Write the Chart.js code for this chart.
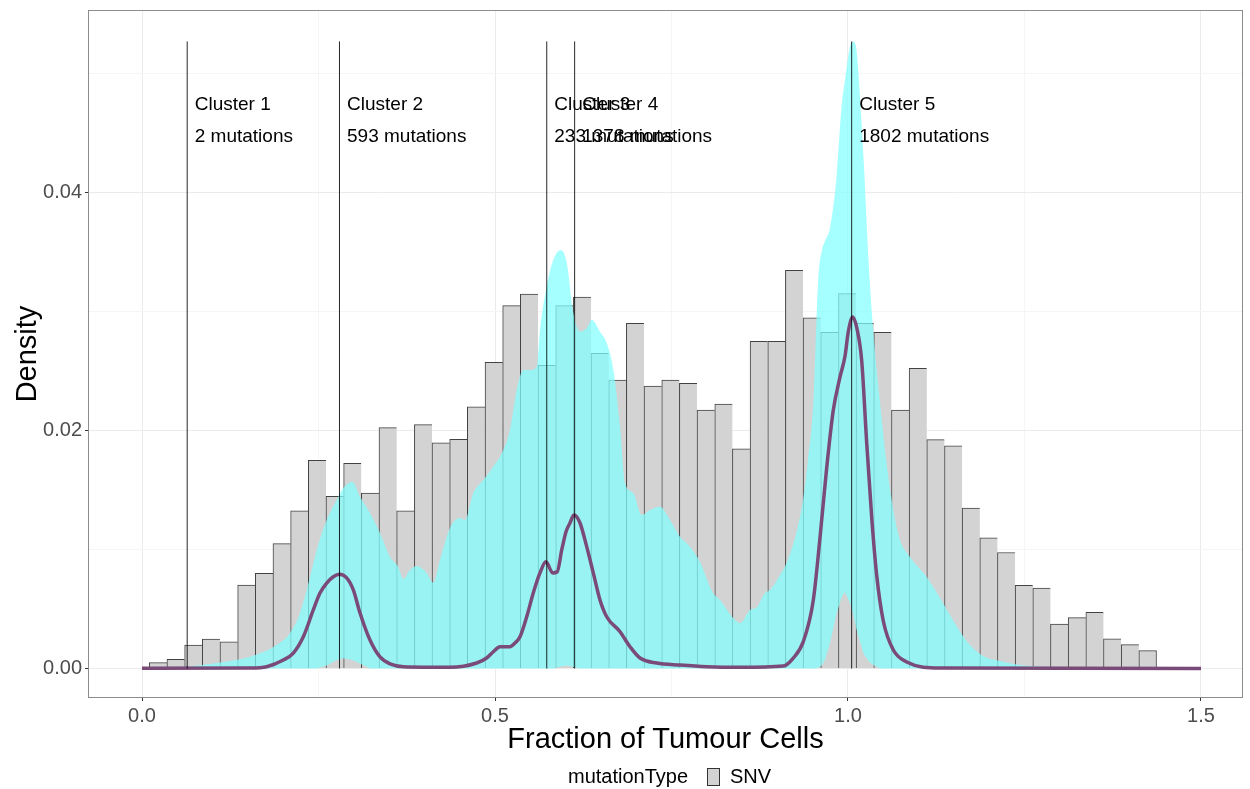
<!DOCTYPE html>
<html>
<head>
    <title>Fraction of Tumour Cells</title>
    <script src="https://cdn.jsdelivr.net/npm/chart.js"></script>
    <style>
        body { margin: 0; background: #fff; }
        canvas { display: block; }
    </style>
</head>
<body>
    <canvas id="myChart" width="1250" height="789"></canvas>
    <script>
        // histogram (bin centres and heights)
        var binX = [0.0228, 0.0478, 0.0729, 0.0979, 0.1229, 0.1480, 0.1730, 0.1980, 0.2230, 0.2481,
            0.2731, 0.2981, 0.3232, 0.3482, 0.3732, 0.3983, 0.4233, 0.4483, 0.4733, 0.4984,
            0.5234, 0.5484, 0.5735, 0.5985, 0.6235, 0.6486, 0.6736, 0.6986, 0.7236, 0.7487,
            0.7737, 0.7987, 0.8238, 0.8488, 0.8738, 0.8989, 0.9239, 0.9489, 0.9739, 0.9990,
            1.0240, 1.0490, 1.0741, 1.0991, 1.1241, 1.1492, 1.1742, 1.1992, 1.2242, 1.2493,
            1.2743, 1.2993, 1.3244, 1.3494, 1.3744, 1.3995, 1.4245];
        var binDensity = [0.00049, 0.00077, 0.00197, 0.00248, 0.00225, 0.00700, 0.00800, 0.01050, 0.01326, 0.01749,
            0.01447, 0.01724, 0.01475, 0.02024, 0.01324, 0.02049, 0.01897, 0.01926, 0.02200, 0.02573,
            0.03049, 0.03147, 0.02548, 0.03049, 0.03122, 0.02649, 0.02424, 0.02901, 0.02374, 0.02424,
            0.02397, 0.02172, 0.02223, 0.01847, 0.02750, 0.02750, 0.03346, 0.02948, 0.02825, 0.03150,
            0.02901, 0.02825, 0.02172, 0.02523, 0.01923, 0.01872, 0.01349, 0.01099, 0.00975, 0.00699,
            0.00676, 0.00374, 0.00427, 0.00472, 0.00250, 0.00200, 0.00150];

        // cyan ribbon (upper and lower bound)
        var ribbonX = [0, 0.0255, 0.0633, 0.1058, 0.1530, 0.1908, 0.2096, 0.2238, 0.2380, 0.2475,
            0.2616, 0.2758, 0.2851, 0.2979, 0.3088, 0.3229, 0.3371, 0.3513, 0.3630, 0.3701,
            0.3796, 0.3891, 0.4032, 0.4126, 0.4221, 0.4363, 0.4504, 0.4575, 0.4693, 0.4834,
            0.4976, 0.5118, 0.5212, 0.5307, 0.5401, 0.5496, 0.5591, 0.5637, 0.5732, 0.5826,
            0.5931, 0.6016, 0.6109, 0.6204, 0.6299, 0.6370, 0.6487, 0.6582, 0.6676, 0.6771,
            0.6841, 0.6959, 0.7078, 0.7196, 0.7337, 0.7479, 0.7620, 0.7762, 0.7904, 0.8088,
            0.8187, 0.8375, 0.8470, 0.8612, 0.8711, 0.8824, 0.8895, 0.9037, 0.9136, 0.9278,
            0.9367, 0.9433, 0.9509, 0.9579, 0.9632, 0.9674, 0.9745, 0.9840, 0.9911, 0.9958,
            1.0028, 1.0075, 1.0123, 1.0217, 1.0288, 1.0358, 1.0453, 1.0548, 1.0642, 1.0737,
            1.0878, 1.1115, 1.1303, 1.1487, 1.1681, 1.1912, 1.2153, 1.2436, 1.2720, 1.3286,
            1.3853, 1.5000];
        var ribbonHigh = [0.00002, 0.00004, 0.00015, 0.00046, 0.00099, 0.00197, 0.00298, 0.00466, 0.00769, 0.00996,
            0.01248, 0.01416, 0.01517, 0.01570, 0.01444, 0.01307, 0.01139, 0.00937, 0.00853, 0.00752,
            0.00828, 0.00861, 0.00803, 0.00721, 0.00912, 0.01181, 0.01265, 0.01248, 0.01475, 0.01584,
            0.01696, 0.01836, 0.02004, 0.02340, 0.02508, 0.02508, 0.02536, 0.02845, 0.03208, 0.03433,
            0.03517, 0.03408, 0.02987, 0.02830, 0.02861, 0.02929, 0.02830, 0.02735, 0.02508, 0.02032,
            0.01559, 0.01475, 0.01290, 0.01332, 0.01360, 0.01248, 0.01108, 0.01024, 0.00895, 0.00634,
            0.00576, 0.00424, 0.00382, 0.00492, 0.00517, 0.00634, 0.00660, 0.00786, 0.00895, 0.01164,
            0.01433, 0.01752, 0.02239, 0.03282, 0.03517, 0.03592, 0.03702, 0.04147, 0.04735, 0.04945,
            0.05227, 0.05268, 0.05181, 0.04324, 0.03458, 0.02828, 0.02239, 0.01718, 0.01332, 0.01080,
            0.00937, 0.00769, 0.00592, 0.00408, 0.00231, 0.00105, 0.00063, 0.00029, 0.00015, 0.00004,
            0.00002, 0];
        var ribbonLow = [0, 0, 0, 0, 0, 0, 0, 0, 0, 0,
            0.00025, 0.00071, 0.00086, 0.00071, 0.00042, 0, 0, 0, 0, 0,
            0, 0, 0, 0, 0, 0, 0, 0, 0, 0,
            0, 0, 0, 0, 0, 0, 0, 0, 0, 0,
            0.00017, 0.00025, 0.00013, 0, 0, 0, 0, 0, 0, 0,
            0, 0, 0, 0, 0, 0, 0, 0, 0, 0,
            0, 0, 0, 0, 0, 0, 0, 0, 0, 0,
            0, 0, 0, 0.00004, 0.00029, 0.00071, 0.00214, 0.00466, 0.00601, 0.00643,
            0.00550, 0.00450, 0.00324, 0.00130, 0.00063, 0.00029, 0, 0, 0, 0,
            0, 0, 0, 0, 0, 0, 0, 0, 0, 0,
            0, 0];

        // purple fitted curve
        var fitX = [0, 0.1530, 0.1766, 0.2001, 0.2143, 0.2285, 0.2426, 0.2521, 0.2616, 0.2710,
            0.2795, 0.2899, 0.2993, 0.3088, 0.3229, 0.3371, 0.3513, 0.3701, 0.4363, 0.4741,
            0.4882, 0.4976, 0.5071, 0.5212, 0.5283, 0.5354, 0.5449, 0.5542, 0.5637, 0.5722,
            0.5817, 0.5882, 0.5945, 0.6006, 0.6062, 0.6119, 0.6204, 0.6299, 0.6392, 0.6487,
            0.6582, 0.6771, 0.6912, 0.7054, 0.7290, 0.7620, 0.7999, 0.8470, 0.9084, 0.9225,
            0.9367, 0.9509, 0.9603, 0.9698, 0.9792, 0.9887, 0.9958, 1.0004, 1.0067, 1.0123,
            1.0194, 1.0265, 1.0336, 1.0406, 1.0500, 1.0642, 1.0831, 1.1303, 1.5000];
        var fitY = [0.00001, 0.00004, 0.00015, 0.00071, 0.00130, 0.00267, 0.00492, 0.00634, 0.00718, 0.00771,
            0.00792, 0.00761, 0.00660, 0.00466, 0.00239, 0.00097, 0.00038, 0.00015, 0.00010, 0.00046,
            0.00088, 0.00141, 0.00183, 0.00183, 0.00214, 0.00267, 0.00435, 0.00634, 0.00803, 0.00897,
            0.00803, 0.00813, 0.00996, 0.01150, 0.01223, 0.01290, 0.01223, 0.01024, 0.00803, 0.00576,
            0.00435, 0.00309, 0.00183, 0.00088, 0.00046, 0.00029, 0.00015, 0.00010, 0.00021, 0.00088,
            0.00226, 0.00576, 0.01097, 0.01685, 0.02172, 0.02450, 0.02626, 0.02830, 0.02954, 0.02866,
            0.02587, 0.01895, 0.01268, 0.00786, 0.00399, 0.00155, 0.00055, 0.00004, 0];

        // clusters
        var clusterX = [0.0640, 0.2797, 0.5733, 0.6128, 1.0052];
        var clusterNames = ['Cluster 1', 'Cluster 2', 'Cluster 3', 'Cluster 4', 'Cluster 5'];
        var clusterCounts = ['2 mutations', '593 mutations', '233 mutations', '1378 mutations', '1802 mutations'];
        var clusterLineTop = 0.0527;
        var clusterNameY = 0.04735;
        var clusterCountY = 0.04471;
        var clusterLabelShift = 0.0107;

        // axes
        var xTicks = [0, 0.25, 0.5, 0.75, 1, 1.25, 1.5];
        var xTickLabels = ['0.0', '', '0.5', '', '1.0', '', '1.5'];
        var yTicks = [0, 0.01, 0.02, 0.03, 0.04, 0.05];
        var yTickLabels = ['0.00', '', '0.02', '', '0.04', ''];

        var FONT = '"Liberation Sans", Arial, Helvetica, sans-serif';

        function toPoints(xs, ys) {
            return xs.map(function (x, i) { return { x: x, y: ys[i] }; });
        }

        var datasets = [];

        datasets.push({
            type: 'bar',
            label: 'SNV',
            data: toPoints(binX, binDensity),
            backgroundColor: '#d3d3d3',
            borderColor: 'rgba(20,20,20,0.8)',
            borderWidth: function (c) {
                return { top: 1, left: 1, bottom: 0, right: c.dataIndex === binX.length - 1 ? 1 : 0 };
            },
            borderSkipped: false,
            barPercentage: 1,
            categoryPercentage: 1,
            order: 4
        });

        datasets.push({
            type: 'line',
            label: 'low',
            data: toPoints(ribbonX, ribbonLow),
            borderColor: 'rgba(0,0,0,0)',
            borderWidth: 0,
            pointRadius: 0,
            fill: false,
            order: 3
        });
        datasets.push({
            type: 'line',
            label: 'high',
            data: toPoints(ribbonX, ribbonHigh),
            borderColor: 'rgba(0,0,0,0)',
            borderWidth: 0,
            pointRadius: 0,
            backgroundColor: 'rgba(130,255,255,0.72)',
            fill: '-1',
            cubicInterpolationMode: 'monotone',
            order: 3
        });

        datasets.push({
            type: 'line',
            label: 'fit',
            data: toPoints(fitX, fitY),
            borderColor: '#7a4a78',
            borderWidth: 3.5,
            pointRadius: 0,
            fill: false,
            cubicInterpolationMode: 'monotone',
            order: 1
        });

        clusterX.forEach(function (cx, i) {
            datasets.push({
                type: 'line',
                label: clusterNames[i],
                data: [{ x: cx, y: 0 }, { x: cx, y: clusterLineTop }],
                borderColor: 'rgba(0,0,0,0.85)',
                borderWidth: 1,
                pointRadius: 0,
                fill: false,
                order: 0
            });
        });

        var extras = {
            id: 'extras',
            afterDatasetsDraw: function (chart) {
                var ctx = chart.ctx, xs = chart.scales.x, ys = chart.scales.y, a = chart.chartArea;
                ctx.save();
                ctx.fillStyle = '#000';
                ctx.font = '19px ' + FONT;
                ctx.textAlign = 'left';
                ctx.textBaseline = 'middle';
                clusterX.forEach(function (cx, i) {
                    var px = xs.getPixelForValue(cx + clusterLabelShift);
                    ctx.fillText(clusterNames[i], px, ys.getPixelForValue(clusterNameY));
                    ctx.fillText(clusterCounts[i], px, ys.getPixelForValue(clusterCountY));
                });
                // panel border
                ctx.strokeStyle = '#8c8c8c';
                ctx.lineWidth = 1;
                ctx.strokeRect(a.left + 0.5, a.top + 0.5, a.right - a.left - 1, a.bottom - a.top - 1);
                ctx.restore();
            },
            afterDraw: function (chart) {
                // legend at the bottom
                var ctx = chart.ctx;
                ctx.save();
                ctx.font = '20px ' + FONT;
                ctx.fillStyle = '#000';
                ctx.textAlign = 'left';
                ctx.textBaseline = 'middle';
                ctx.fillText('mutationType', 568, 777);
                ctx.fillStyle = '#d3d3d3';
                ctx.fillRect(707, 768, 13, 18);
                ctx.strokeStyle = '#333';
                ctx.lineWidth = 1;
                ctx.strokeRect(707.5, 768.5, 12, 17);
                ctx.fillStyle = '#000';
                ctx.fillText('SNV', 730, 777);
                ctx.restore();
            }
        };

        var ctx = document.getElementById('myChart').getContext('2d');
        var myChart = new Chart(ctx, {
            type: 'bar',
            data: { datasets: datasets },
            options: {
                responsive: false,
                animation: false,
                devicePixelRatio: 1,
                events: [],
                layout: { padding: { top: 10, right: 7, left: 0, bottom: 0 } },
                plugins: {
                    legend: { display: false },
                    tooltip: { enabled: false }
                },
                scales: {
                    x: {
                        type: 'linear',
                        min: -0.0765,
                        max: 1.5595,
                        offset: false,
                        afterBuildTicks: function (scale) {
                            scale.ticks = xTicks.map(function (v) { return { value: v }; });
                        },
                        afterFit: function (scale) {
                            scale.height = 91;
                            scale.paddingLeft = 0;
                            scale.paddingRight = 0;
                        },
                        ticks: {
                            autoSkip: false,
                            maxRotation: 0,
                            padding: 3,
                            color: '#4d4d4d',
                            font: { family: FONT, size: 20 },
                            callback: function (v, i) { return xTickLabels[i]; }
                        },
                        grid: {
                            offset: false,
                            color: function (c) { return xTickLabels[c.index] ? '#ebebeb' : '#f5f5f5'; },
                            tickColor: function (c) { return xTickLabels[c.index] ? '#333333' : 'rgba(0,0,0,0)'; },
                            tickLength: 3
                        },
                        border: { display: false },
                        title: {
                            display: true,
                            text: 'Fraction of Tumour Cells',
                            color: '#000',
                            font: { family: FONT, size: 29, lineHeight: 1.2 },
                            padding: { top: 0, bottom: 32 }
                        }
                    },
                    y: {
                        type: 'linear',
                        min: -0.00248,
                        max: 0.05534,
                        afterBuildTicks: function (scale) {
                            scale.ticks = yTicks.map(function (v) { return { value: v }; });
                        },
                        afterFit: function (scale) {
                            scale.width = 88;
                            scale.paddingTop = 0;
                            scale.paddingBottom = 0;
                        },
                        ticks: {
                            padding: 3,
                            color: '#4d4d4d',
                            font: { family: FONT, size: 20 },
                            callback: function (v, i) { return yTickLabels[i]; }
                        },
                        grid: {
                            color: function (c) { return yTickLabels[c.index] ? '#ebebeb' : '#f5f5f5'; },
                            tickColor: function (c) { return yTickLabels[c.index] ? '#333333' : 'rgba(0,0,0,0)'; },
                            tickLength: 3
                        },
                        border: { display: false },
                        title: {
                            display: true,
                            text: 'Density',
                            color: '#000',
                            font: { family: FONT, size: 29, lineHeight: 1.2 },
                            padding: { top: 11, bottom: 0 }
                        }
                    }
                }
            },
            plugins: [extras]
        });
    </script>
</body>
</html>
